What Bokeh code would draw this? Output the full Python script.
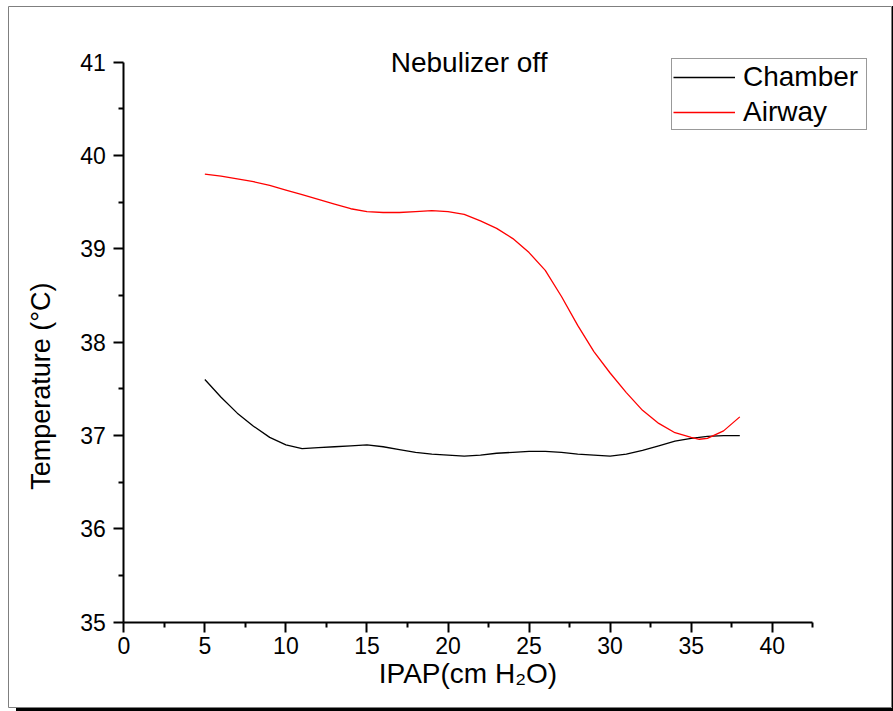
from bokeh.plotting import figure
from bokeh.models import Range1d, Label, Legend, LegendItem, FixedTicker
from bokeh.embed import file_html
from bokeh.resources import INLINE
import math

# Values
chamber_x = [5, 6, 7, 8, 9, 10, 11, 12, 13, 14, 15, 16, 17, 18, 19, 20, 21, 22, 23, 24, 25,
             26, 27, 28, 29, 30, 31, 32, 33, 34, 35, 36, 37, 38]
chamber_y = [37.60, 37.41, 37.24, 37.10, 36.98, 36.90, 36.86, 36.87, 36.88, 36.89, 36.90,
             36.88, 36.85, 36.82, 36.80, 36.79, 36.78, 36.79, 36.81, 36.82, 36.83, 36.83,
             36.82, 36.80, 36.79, 36.78, 36.80, 36.84, 36.89, 36.94, 36.97, 36.99, 37.00, 37.00]

airway_x = [5, 6, 7, 8, 9, 10, 11, 12, 13, 14, 15, 16, 17, 18, 19, 20, 21, 22, 23, 24, 25,
            26, 27, 28, 29, 30, 31, 32, 33, 34, 35, 35.5, 36, 37, 38]
airway_y = [39.80, 39.78, 39.75, 39.72, 39.68, 39.63, 39.58, 39.53, 39.48, 39.43, 39.40,
            39.39, 39.39, 39.40, 39.41, 39.40, 39.37, 39.30, 39.22, 39.11, 38.96, 38.77,
            38.49, 38.18, 37.90, 37.67, 37.46, 37.27, 37.13, 37.03, 36.98, 36.96, 36.97,
            37.05, 37.20]

x_ticks = [0, 5, 10, 15, 20, 25, 30, 35, 40]
y_ticks = [35, 36, 37, 38, 39, 40, 41]
x_minor = [2.5, 7.5, 12.5, 17.5, 22.5, 27.5, 32.5, 37.5, 42.5]
y_minor = [35.5, 36.5, 37.5, 38.5, 39.5, 40.5]
x_axis_span = (0, 42.5)
y_axis_span = (35, 41)

title_text = "Nebulizer off"
x_label = "IPAP(cm H\u2082O)"
y_label = "Temperature (\u00b0C)"

FONT = "Liberation Sans"

# The plotting frame fills the page-like box; axes sit at fixed data positions.
p = figure(width=892, height=708, output_backend="svg", toolbar_location=None, title=None,
           x_range=Range1d(-7.113, 47.42), y_range=Range1d(34.086, 41.597),
           min_border_left=8, min_border_right=0, min_border_top=6, min_border_bottom=1)
p.styles = {"box-shadow": "16px 6px 0 0 #000"}
p.outline_line_color = "#7f7f7f"
p.outline_line_width = 1
p.grid.visible = False
p.background_fill_color = "white"
p.border_fill_color = "white"

for ax, ticks, minor, bounds, loc in ((p.xaxis[0], x_ticks, x_minor, x_axis_span, y_axis_span[0]),
                                      (p.yaxis[0], y_ticks, y_minor, y_axis_span, x_axis_span[0])):
    ax.ticker = FixedTicker(ticks=ticks, minor_ticks=minor)
    ax.bounds = bounds
    ax.fixed_location = loc
    ax.axis_line_width = 2
    ax.axis_line_color = "black"
    ax.major_tick_line_width = 2
    ax.minor_tick_line_width = 2
    ax.major_tick_line_color = "black"
    ax.minor_tick_line_color = "black"
    ax.major_tick_out = 10
    ax.major_tick_in = 0
    ax.minor_tick_out = 5
    ax.minor_tick_in = 0
    ax.major_label_text_font = FONT
    ax.major_label_text_font_size = "23px"
    ax.major_label_text_color = "black"

p.yaxis[0].major_label_standoff = 8
p.xaxis[0].major_label_standoff = 5

p.xaxis[0].axis_label = x_label
p.xaxis[0].axis_label_text_font = FONT
p.xaxis[0].axis_label_text_font_size = "28px"
p.xaxis[0].axis_label_text_font_style = "normal"
p.xaxis[0].axis_label_text_color = "black"
p.xaxis[0].axis_label_standoff = 0

r1 = p.line(chamber_x, chamber_y, line_color="black", line_width=1.3)
r2 = p.line(airway_x, airway_y, line_color="#ff0000", line_width=1.3)

legend = Legend(items=[LegendItem(label="Chamber", renderers=[r1]),
                       LegendItem(label="Airway", renderers=[r2])],
                location=(663, 577))
legend.label_text_font = FONT
legend.label_text_font_size = "28px"
legend.label_text_color = "black"
legend.glyph_width = 62
legend.label_height = 33
legend.label_width = 122
legend.label_standoff = 8
legend.padding = 1
legend.spacing = 2
legend.margin = 0
legend.border_line_color = "#333333"
legend.border_line_width = 1
legend.background_fill_alpha = 1
p.add_layout(legend, "center")

p.add_layout(Label(x=21.3, y=41, text=title_text, text_align="center", text_baseline="middle",
                   text_font=FONT, text_font_size="28px", text_color="black"))
p.add_layout(Label(x=-5.1, y=37.53, text=y_label, text_align="center", text_baseline="middle",
                   angle=math.pi / 2, text_font=FONT, text_font_size="27px", text_color="black"))

open("out.html", "w").write(file_html(p, INLINE))
